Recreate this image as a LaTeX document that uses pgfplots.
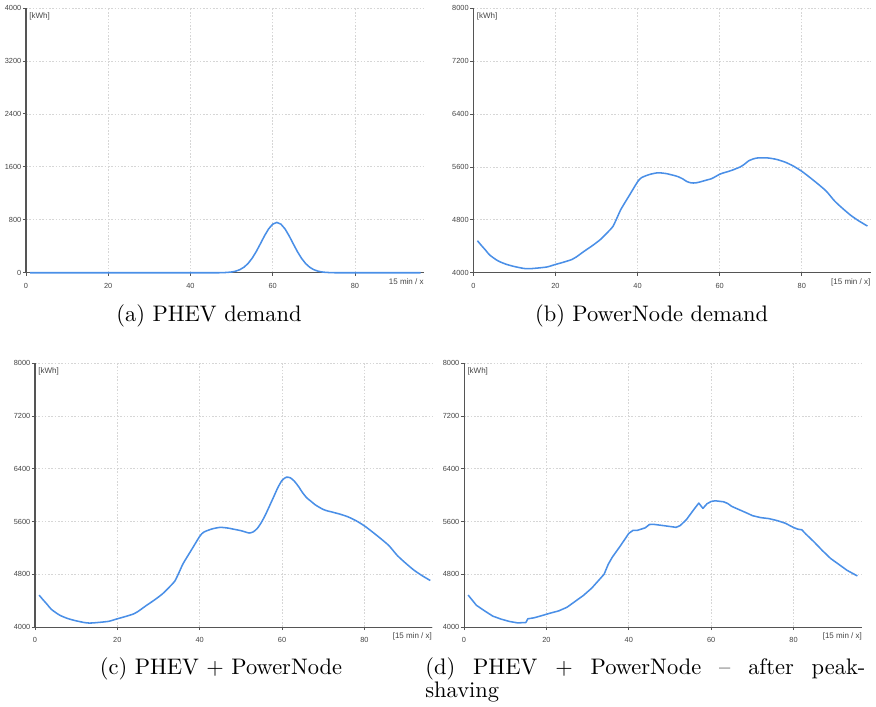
\documentclass[border=0pt]{standalone}
\usepackage{fontspec}
\usepackage{pgfplots}
\pgfplotsset{compat=1.18}
\newfontfamily\tickfont{Liberation Sans}
\definecolor{axisgray}{HTML}{555555}
\definecolor{gridgray}{HTML}{D6D6D6}
\definecolor{labelgray}{HTML}{444444}
\definecolor{curveblue}{HTML}{4A8FE7}
\tikzset{
  unitlab/.style={anchor=north west, font=\tickfont\fontsize{3.9}{4}\selectfont, text=labelgray, inner sep=0pt},
  xunitlab/.style={anchor=north east, font=\tickfont\fontsize{3.9}{4}\selectfont, text=labelgray, inner sep=0pt},
  curve/.style={draw=curveblue, line width=0.75pt, mark=none, line join=round},
}
\pgfplotsset{
  panel/.style={
    scale only axis,
    clip=false,
    axis x line=bottom, axis y line=left,
    axis line style={-, draw=axisgray, line width=0.5pt},
    xmin=0, xtick={0,20,40,60,80},
    grid=major,
    major grid style={draw=gridgray, line width=0.35pt, dash pattern=on 0.8pt off 0.8pt},
    tick align=outside,
    major tick length=1.5pt,
    tick style={draw=axisgray, line width=0.4pt},
    ticklabel style={font=\tickfont\fontsize{3.6}{4}\selectfont, text=labelgray},
    yticklabel style={inner xsep=0.6pt},
    /pgf/number format/assume math mode=true,
    /pgf/number format/1000 sep={},
  },
}
\pgfplotstableread{
x y
1 0
47 0
48 2
49 5
50 11.5
51 24
52 46
53 83
54 139
55 219
56 320
57 437
58 557
59 662
60 734
61 760
62 734
63 662
64 557
65 437
66 320
67 219
68 139
69 83
70 46
71 24
72 11.5
73 5
74 2
75 0
96 0
}\phev
\pgfplotstableread{
x y
1 4484
2 4410
3 4340
4 4267
6 4180
8 4128
10 4094
12 4068
13 4061
14 4062
16 4073
18 4088
20 4125
22 4160
24 4200
25 4235
27 4325
29 4410
31 4505
33 4630
34 4700
35 4830
36 4965
38 5170
40 5375
41 5440
43 5488
45 5512
47 5500
48 5485
49 5470
50 5450
51 5420
52 5380
53 5360
54 5358
55 5370
56 5387
57 5405
58 5422
59 5455
60 5490
61 5512
62 5530
63 5550
64 5575
65 5600
66 5640
67 5690
68 5718
69 5735
70 5738
71 5738
72 5735
73 5725
74 5712
76 5672
78 5612
80 5535
82 5440
84 5340
86 5232
88 5085
90 4970
92 4865
94 4780
96 4706
}\powernode
\pgfplotstableread{
x y
1 4484
2 4410
3 4340
4 4267
6 4180
8 4128
10 4094
12 4068
13 4061
14 4062
16 4073
18 4088
20 4125
22 4160
24 4200
25 4235
27 4325
29 4410
31 4505
33 4630
34 4700
35 4830
36 4965
38 5170
40 5375
41 5440
43 5488
45 5512
47 5500
48 5487
49 5475
50 5462
51 5444
52 5426
53 5443
54 5497
55 5589
56 5707
57 5842
58 5979
59 6117
60 6224
61 6272
62 6264
63 6212
64 6132
65 6037
66 5960
67 5909
68 5857
69 5818
70 5784
71 5762
72 5747
73 5730
74 5714
76 5672
78 5612
80 5535
82 5440
84 5340
86 5232
88 5085
90 4970
92 4865
94 4780
96 4706
}\combined
\pgfplotstableread{
x y
1 4485
3 4330
5 4245
7 4165
9 4120
11 4085
13 4063
15 4068
15.5 4125
17 4140
19 4175
21 4212
23 4245
25 4300
27 4390
29 4480
31 4590
33 4730
34 4800
35 4950
36 5060
38 5235
40 5420
41 5465
42 5465
44 5505
45 5555
46 5558
48 5542
50 5525
51.5 5512
52.5 5540
54 5630
56 5800
57 5880
58 5800
59 5870
60 5905
61 5915
63 5900
64 5875
65 5830
67 5775
69 5720
70 5690
72 5660
74 5645
76 5615
78 5575
80 5510
81 5485
82 5475
83 5410
85 5290
87 5160
89 5040
91 4950
93 4860
95.5 4775
}\shaved
\begin{document}
\begin{tikzpicture}
\useasboundingbox (0,0) rectangle (427.3pt,344.4pt);
% (a)
\begin{axis}[panel, at={(12.68pt,211.36pt)}, anchor=south west,
  width=194.14pt, height=129.12pt, xmax=96.8, ymin=0, ymax=4000,
  ytick={0,800,1600,2400,3200,4000}]
\addplot[curve] table[x=x,y=y]{\phev};
\node[unitlab] at (rel axis cs:0,1) [xshift=1.5pt,yshift=-2pt] {[kWh]};
\node[xunitlab] at (rel axis cs:1,0) [yshift=-2.6pt] {15 min / x};
\end{axis}
% (b)
\begin{axis}[panel, at={(230.88pt,211.36pt)}, anchor=south west,
  width=193.85pt, height=128.97pt, xmax=96.8, ymin=4000, ymax=8000,
  ytick={4000,4800,5600,6400,7200,8000}]
\addplot[curve, smooth, tension=0.4] table[x=x,y=y]{\powernode};
\node[unitlab] at (rel axis cs:0,1) [xshift=1.5pt,yshift=-2pt] {[kWh]};
\node[xunitlab] at (rel axis cs:1,0) [yshift=-2.6pt] {[15 min / x]};
\end{axis}
% (c)
\begin{axis}[panel, at={(17.07pt,38.54pt)}, anchor=south west,
  width=193.8pt, height=128.63pt, xmax=96.5, ymin=4000, ymax=8000,
  ytick={4000,4800,5600,6400,7200,8000}]
\addplot[curve, smooth, tension=0.4] table[x=x,y=y]{\combined};
\node[unitlab] at (rel axis cs:0,1) [xshift=1.5pt,yshift=-2pt] {[kWh]};
\node[xunitlab] at (rel axis cs:1,0) [yshift=-2.6pt] {[15 min / x]};
\end{axis}
% (d)
\begin{axis}[panel, at={(226.34pt,38.54pt)}, anchor=south west,
  width=194.29pt, height=128.63pt, xmax=96.7, ymin=4000, ymax=8000,
  ytick={4000,4800,5600,6400,7200,8000}]
\addplot[curve] table[x=x,y=y]{\shaved};
\node[unitlab] at (rel axis cs:0,1) [xshift=1.5pt,yshift=-2pt] {[kWh]};
\node[xunitlab] at (rel axis cs:1,0) [yshift=-2.6pt] {[15 min / x]};
\end{axis}
% captions
\begin{scope}[every node/.style={font=\fontsize{10.95}{13.6}\selectfont, inner sep=0pt}]
\node[anchor=base] at (101.95pt,187.8pt) {(a) PHEV demand};
\node[anchor=base] at (317.8pt,187.8pt) {(b) PowerNode demand};
\node[anchor=base] at (107.8pt,15.37pt) {(c) PHEV + PowerNode};
\node[anchor=base west] at (207.3pt,15.37pt) {\makebox[214.6pt][s]{(d) PHEV + PowerNode -- after peak-}};
\node[anchor=base west] at (207.3pt,4.15pt) {shaving};
\end{scope}
\end{tikzpicture}
\end{document}
